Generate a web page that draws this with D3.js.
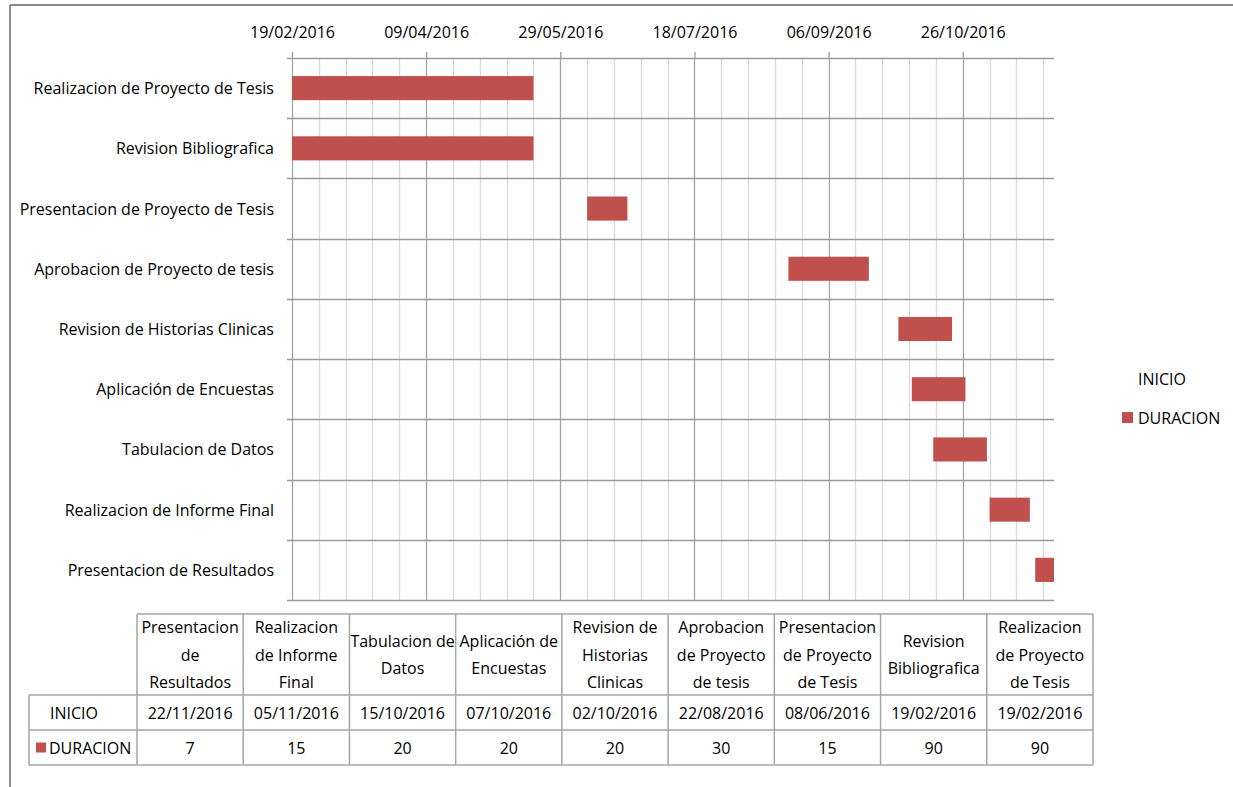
<!DOCTYPE html>
<html><head><meta charset="utf-8">
<script src="https://cdn.jsdelivr.net/npm/d3@7"></script>
<style>
html,body{margin:0;padding:0;background:#fff;}
svg text{font-family:"Liberation Sans Narrow","Arial Narrow","Open Sans",sans-serif;fill:#000;}
</style></head>
<body>
<svg id="chart" width="1233" height="787"></svg>
<script>
// ---- data ----
const tasks = [
  "Realizacion de Proyecto de Tesis",
  "Revision Bibliografica",
  "Presentacion de Proyecto de Tesis",
  "Aprobacion de Proyecto de tesis",
  "Revision de Historias Clinicas",
  "Aplicación de Encuestas",
  "Tabulacion de Datos",
  "Realizacion de Informe Final",
  "Presentacion de Resultados"
];
const inicio = ["19/02/2016","19/02/2016","08/06/2016","22/08/2016","02/10/2016","07/10/2016","15/10/2016","05/11/2016","22/11/2016"];
const duracion = [90,90,15,30,20,20,20,15,7];
// data-table header text as wrapped in the original (same tasks, table order bottom→top)
const tableHeaders = [
  "Presentacion|de|Resultados",
  "Realizacion|de Informe|Final",
  "Tabulacion de|Datos",
  "Aplicación de|Encuestas",
  "Revision de|Historias|Clinicas",
  "Aprobacion|de Proyecto|de tesis",
  "Presentacion|de Proyecto|de Tesis",
  "Revision|Bibliografica",
  "Realizacion|de Proyecto|de Tesis"
];
const axisStart = "19/02/2016";
const axisEnd = "29/11/2016";
const majorDays = 50, minorDays = 10;
const tickLabels = ["19/02/2016","09/04/2016","29/05/2016","18/07/2016","06/09/2016","26/10/2016"];
const seriesNames = ["INICIO","DURACION"];

// ---- setup ----
const parse = d3.utcParse("%d/%m/%Y");
const fmt = d3.utcFormat("%d/%m/%Y");
const svg = d3.select("#chart");
const red = "#C0504D";
const plot = {l:292, r:1054, t:58, b:600};

// outer chart border
svg.append("line").attr("x1",10).attr("x2",1233).attr("y1",5).attr("y2",5).attr("stroke","#8c8c8c").attr("stroke-width",2);
svg.append("line").attr("x1",10).attr("x2",10).attr("y1",5).attr("y2",787).attr("stroke","#8c8c8c").attr("stroke-width",2);

const x = d3.scaleUtc().domain([parse(axisStart), parse(axisEnd)]).range([plot.l, plot.r]);
const y = d3.scaleBand().domain(tasks).range([plot.t, plot.b]).paddingInner(0.6).paddingOuter(0.3);

// minor / major vertical gridlines
const minor = d3.utcDay.range(parse(axisStart), d3.utcDay.offset(parse(axisEnd),1), minorDays);
svg.append("g").selectAll("line").data(minor).join("line")
  .attr("x1",d=>Math.round(x(d))+0.5).attr("x2",d=>Math.round(x(d))+0.5)
  .attr("y1",plot.t).attr("y2",plot.b)
  .attr("stroke",(d,i)=> i%(majorDays/minorDays)===0 ? "#a6a6a6" : "#d9d9d9").attr("stroke-width",1.3);

// horizontal row boundaries (category ticks)
const bounds = tasks.map(t => y(t) - y.step()*y.paddingOuter()).concat([plot.b]);
svg.append("g").selectAll("line").data(bounds).join("line")
  .attr("x1",plot.l-5).attr("x2",plot.r)
  .attr("y1",d=>Math.round(d)+0.5).attr("y2",d=>Math.round(d)+0.5)
  .attr("stroke","#9a9a9a").attr("stroke-width",1.3);

// top date axis
const ticks = tickLabels.map(parse);
const ax = d3.axisTop(x).tickValues(ticks).tickFormat(fmt).tickSize(6).tickSizeOuter(0);
const gAx = svg.append("g").attr("transform",`translate(0,${plot.t})`).call(ax);
gAx.select(".domain").remove();
gAx.selectAll(".tick line").attr("stroke","#9a9a9a").attr("stroke-width",1.3);
gAx.selectAll(".tick text").attr("font-size",16).attr("dy",0).attr("y",-20);

// category labels
svg.append("g").selectAll("text").data(tasks).join("text")
  .attr("x",plot.l-18).attr("y",d=>y(d)+y.bandwidth()/2)
  .attr("text-anchor","end").attr("dominant-baseline","central")
  .attr("font-size",16).text(d=>d);

// bars
svg.append("g").selectAll("rect").data(tasks).join("rect")
  .attr("x",(d,i)=>x(parse(inicio[i])))
  .attr("width",(d,i)=>x(d3.utcDay.offset(parse(inicio[i]),duracion[i])) - x(parse(inicio[i])))
  .attr("y",d=>y(d)).attr("height",y.bandwidth())
  .attr("fill",red);

// right legend
const lg = svg.append("g");
lg.append("text").attr("x",1138).attr("y",379).attr("dominant-baseline","central").attr("font-size",16).text(seriesNames[0]);
lg.append("rect").attr("x",1122).attr("y",412).attr("width",11).attr("height",11).attr("fill",red);
lg.append("text").attr("x",1138).attr("y",418).attr("dominant-baseline","central").attr("font-size",16).text(seriesNames[1]);

// data table (reverse order)
const tOrder = d3.range(tasks.length).reverse();
const tbl = {l:29, c0:137, c1:1093, hTop:614, hBot:695, r1:730, r2:765};
const colW = (tbl.c1 - tbl.c0)/tasks.length;
const tg = svg.append("g");
const bc = "#a6a6a6";
function hl(x1,x2,yy){tg.append("line").attr("x1",x1).attr("x2",x2).attr("y1",yy).attr("y2",yy).attr("stroke",bc).attr("stroke-width",1.5);}
function vl(xx,y1,y2){tg.append("line").attr("x1",xx).attr("x2",xx).attr("y1",y1).attr("y2",y2).attr("stroke",bc).attr("stroke-width",1.5);}
hl(tbl.c0,tbl.c1,tbl.hTop);
hl(tbl.l,tbl.c1,tbl.hBot);
hl(tbl.l,tbl.c1,tbl.r1);
hl(tbl.l,tbl.c1,tbl.r2);
vl(tbl.l,tbl.hBot,tbl.r2);
for(let k=0;k<=tasks.length;k++) vl(tbl.c0+k*colW, tbl.hTop, tbl.r2);

const lh = 27.5;
tOrder.forEach((ti,k)=>{
  const cx = tbl.c0 + (k+0.5)*colW;
  const lines = tableHeaders[k].split("|");
  const midY = (tbl.hTop+tbl.hBot)/2;
  lines.forEach((ln,j)=>{
    tg.append("text").attr("x",cx).attr("y",midY+(j-(lines.length-1)/2)*lh)
      .attr("text-anchor","middle").attr("dominant-baseline","central").attr("font-size",16).text(ln);
  });
  tg.append("text").attr("x",cx).attr("y",(tbl.hBot+tbl.r1)/2).attr("text-anchor","middle")
    .attr("dominant-baseline","central").attr("font-size",16).text(inicio[ti]);
  tg.append("text").attr("x",cx).attr("y",(tbl.r1+tbl.r2)/2).attr("text-anchor","middle")
    .attr("dominant-baseline","central").attr("font-size",16).text(duracion[ti]);
});
tg.append("text").attr("x",50).attr("y",(tbl.hBot+tbl.r1)/2).attr("dominant-baseline","central").attr("font-size",16).text(seriesNames[0]);
tg.append("rect").attr("x",36).attr("y",(tbl.r1+tbl.r2)/2-5).attr("width",10).attr("height",10).attr("fill",red);
tg.append("text").attr("x",49).attr("y",(tbl.r1+tbl.r2)/2).attr("dominant-baseline","central").attr("font-size",16).text(seriesNames[1]);
</script>
</body></html>
